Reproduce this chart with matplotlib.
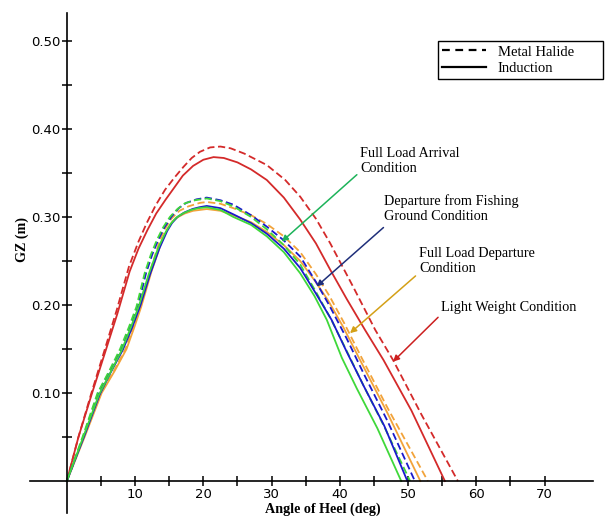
import matplotlib
matplotlib.use("Agg")
import matplotlib.pyplot as plt
from matplotlib.lines import Line2D

# GZ curves (angle of heel in deg, GZ in m)
lw_mh_x = [0, 1.7, 3.6, 5.5, 7.3, 9.1, 10.5, 11.7, 13, 14.4, 15.8, 17.1, 18.3, 19.5, 21, 22.5, 24, 26,
           29.3, 32, 34.2, 36.5, 38.6, 42, 45.2, 47.8, 52, 57.3]
lw_mh_y = [0, 0.05, 0.1, 0.148, 0.194, 0.2436, 0.272, 0.293, 0.313, 0.331, 0.345, 0.357, 0.367, 0.374,
           0.379, 0.380, 0.378, 0.372, 0.359, 0.342, 0.323, 0.298, 0.27, 0.22, 0.1716, 0.1375, 0.075, 0]
lw_in_x = [0, 1.7, 3.7, 5.6, 7.4, 9.2, 10.5, 11.8, 13.1, 14.5, 15.8, 17, 18.5, 20, 21.5, 23, 25, 27,
           29.3, 31.8, 34.2, 36.5, 38.6, 41, 43.7, 46.4, 50.5, 55.4]
lw_in_y = [0, 0.05, 0.1, 0.146, 0.19, 0.238, 0.264, 0.285, 0.304, 0.32, 0.334, 0.347, 0.358, 0.365,
           0.368, 0.367, 0.362, 0.354, 0.342, 0.322, 0.297, 0.27, 0.24, 0.207, 0.1716, 0.1375, 0.08, 0]

fla_in_x = [0, 2.4, 4.7, 6.3, 8.0, 9.4, 10.6, 12, 13.4, 14.5, 15.2, 16.0, 17.0, 18.2, 19.3, 20.5, 22.5,
            24.4, 27, 29.3, 31.8, 34.2, 36.3, 38.1, 40.3, 42.5, 45.5, 49.0]
fla_in_y = [0, 0.05, 0.098, 0.122, 0.148, 0.175, 0.2, 0.235, 0.265, 0.283, 0.292, 0.299, 0.304, 0.308,
            0.310, 0.311, 0.308, 0.300, 0.291, 0.278, 0.26, 0.236, 0.21, 0.183, 0.14, 0.105, 0.06, 0]
fla_mh_x = [0, 2.3, 4.5, 6.2, 7.8, 9.1, 10.2, 11.4, 12.3, 13.2, 14.1, 15.1, 16.2, 17.3, 18.8, 20.5,
            22.5, 24.4, 27, 29.3, 31.8, 34.2, 36.5, 38.7, 41, 43.5, 46.5, 50.3]
fla_mh_y = [0, 0.05, 0.1, 0.125, 0.15, 0.175, 0.198, 0.236, 0.257, 0.274, 0.288, 0.300, 0.309, 0.3155,
            0.319, 0.321, 0.318, 0.312, 0.300, 0.286, 0.268, 0.246, 0.215, 0.184, 0.148, 0.108, 0.062, 0]

dfg_mh_x = [0, 2.4, 4.6, 6.3, 8.0, 9.3, 10.4, 11.6, 12.5, 13.4, 14.3, 15.3, 16.4, 17.5, 19, 20.5,
            22.5, 24.4, 27, 29.3, 31.7, 34.2, 36.6, 38.5, 41, 43.5, 47, 51.0]
dfg_mh_y = [0, 0.05, 0.1, 0.125, 0.15, 0.175, 0.198, 0.236, 0.257, 0.274, 0.288, 0.300, 0.31, 0.316,
            0.32, 0.322, 0.319, 0.314, 0.302, 0.289, 0.274, 0.255, 0.225, 0.199, 0.162, 0.122, 0.068, 0]
dfg_in_x = [0, 2.5, 4.8, 6.4, 8.2, 9.6, 10.8, 12.2, 13.6, 14.7, 15.4, 16.2, 17.2, 18.4, 19.4, 20.5,
            22.5, 24.4, 27, 29.3, 31.8, 34.2, 36.5, 38.8, 41, 43.5, 46.5, 49.9]
dfg_in_y = [0, 0.05, 0.098, 0.123, 0.149, 0.175, 0.2, 0.235, 0.265, 0.284, 0.293, 0.300, 0.305, 0.309,
            0.311, 0.3125, 0.31, 0.303, 0.293, 0.281, 0.264, 0.242, 0.213, 0.183, 0.147, 0.108, 0.063, 0]

fld_in_x = [0, 2.6, 5.1, 7.0, 8.75, 9.9, 10.9, 12.4, 13.9, 14.8, 15.5, 16.3, 17.3, 18.5, 19.5, 20.5,
            22.5, 24.4, 27, 29.3, 31.8, 34.2, 36.3, 38.3, 40.5, 43, 47, 51.8]
fld_in_y = [0, 0.05, 0.1, 0.125, 0.15, 0.175, 0.198, 0.238, 0.272, 0.287, 0.295, 0.300, 0.304, 0.307,
            0.308, 0.309, 0.307, 0.302, 0.294, 0.283, 0.268, 0.25, 0.228, 0.205, 0.175, 0.137, 0.077, 0]
fld_mh_x = [0, 2.5, 5.0, 6.9, 8.6, 9.7, 10.7, 12.2, 13.6, 14.5, 15.3, 16.5, 17.8, 19.5, 20.5, 22.5,
            24.4, 27, 29.3, 31.8, 34.2, 36.5, 38.5, 40.6, 43.2, 47, 52.9]
fld_mh_y = [0, 0.05, 0.1, 0.125, 0.15, 0.175, 0.198, 0.238, 0.273, 0.288, 0.298, 0.307, 0.312, 0.316,
            0.317, 0.315, 0.31, 0.302, 0.292, 0.278, 0.26, 0.235, 0.21, 0.18, 0.14, 0.083, 0]

x_major = [10, 20, 30, 40, 50, 60, 70]
x_minor = [5, 15, 25, 35, 45, 55, 65]
y_major = [0.10, 0.20, 0.30, 0.40, 0.50]
y_minor = [0.05, 0.15, 0.25, 0.35, 0.45]

RED = "#D42A2A"
GREEN = "#3FD83A"
BLUE = "#1A1ACC"
ORANGE = "#F2A33A"
DASH = (4, 2)
SERIF = "Liberation Serif"

fig = plt.figure(figsize=(6.06, 5.2), dpi=100)
ax = fig.add_axes([0.0495, 0.014, 0.929, 0.9615])

series = [
    (lw_mh_x, lw_mh_y, RED, True),
    (lw_in_x, lw_in_y, RED, False),
    (fld_mh_x, fld_mh_y, ORANGE, True),
    (fld_in_x, fld_in_y, ORANGE, False),
    (dfg_mh_x, dfg_mh_y, BLUE, True),
    (fla_mh_x, fla_mh_y, GREEN, True),
    (dfg_in_x, dfg_in_y, BLUE, False),
    (fla_in_x, fla_in_y, GREEN, False),
]
for xs, ys, c, dashed in series:
    line, = ax.plot(xs, ys, color=c, lw=1.3, solid_joinstyle="round")
    if dashed:
        line.set_dashes(DASH)

ax.set_xlim(-5.4, 77.1)
ax.set_ylim(-0.036, 0.532)

for s in ("top", "right"):
    ax.spines[s].set_visible(False)
ax.spines["left"].set_position(("data", 0))
ax.spines["bottom"].set_position(("data", 0))
ax.spines["left"].set_linewidth(1.2)
ax.spines["bottom"].set_linewidth(1.2)

ax.set_xticks(x_major)
ax.set_xticks(x_minor, minor=True)
ax.set_xticklabels([str(v) for v in x_major])
ax.set_yticks(y_major)
ax.set_yticks(y_minor, minor=True)
ax.set_yticklabels([f"{v:.2f}" for v in y_major])
ax.tick_params(which="both", direction="inout", length=7.5, width=1.1, labelsize=9.5, pad=1)

ax.text(37.5, -0.032, "Angle of Heel (deg)", family=SERIF, fontweight="bold",
        fontsize=10.2, ha="center", va="center")
fig.text(22 / 606, 1 - 240 / 520, "GZ (m)", family=SERIF, fontweight="bold",
         fontsize=10.2, rotation=90, ha="center", va="center")

notes = [
    ("Full Load Arrival\nCondition", (43.0, 0.380), (42.5, 0.348), (31.5, 0.272), "#1DB35A"),
    ("Departure from Fishing\nGround Condition", (46.5, 0.326), (46.4, 0.288), (36.6, 0.221), "#1F2F7A"),
    ("Full Load Departure\nCondition", (51.6, 0.266), (51.1, 0.233), (41.5, 0.168), "#D4A017"),
    ("Light Weight Condition", (54.8, 0.204), (54.4, 0.186), (47.8, 0.1356), "#CC1F1F"),
]
for txt, tpos, start, end, c in notes:
    ax.text(tpos[0], tpos[1], txt, family=SERIF, fontsize=10.3, ha="left", va="top",
            linespacing=1.25)
    ax.annotate("", xy=end, xytext=start,
                arrowprops=dict(arrowstyle="-|>", color=c, lw=1.1, mutation_scale=9,
                                shrinkA=0, shrinkB=0))

handles = [
    Line2D([0], [0], color="black", lw=1.6, dashes=(3.5, 2.5), label="Metal Halide"),
    Line2D([0], [0], color="black", lw=1.6, label="Induction"),
]
fig.legend(handles=handles, loc="upper left", bbox_to_anchor=(438 / 606, 1 - 41 / 520, 165 / 606, 0.0),
           mode="expand", frameon=True, fancybox=False, edgecolor="black", framealpha=1,
           prop={"family": SERIF, "size": 10.5}, handlelength=3.0, handletextpad=0.8,
           labelspacing=0.2, borderpad=0.3, borderaxespad=0)

fig.savefig("out.png", dpi=100)
